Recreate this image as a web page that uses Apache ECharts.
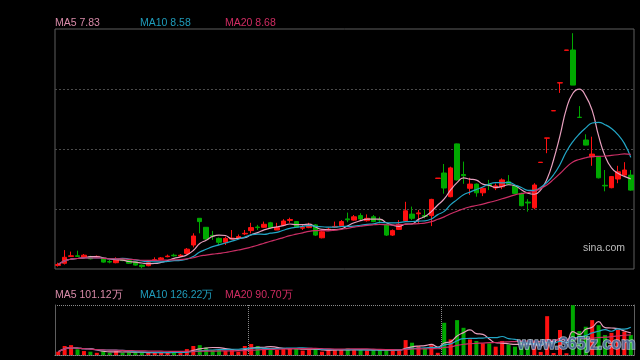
<!DOCTYPE html>
<html><head><meta charset="utf-8">
<script src="https://cdn.jsdelivr.net/npm/echarts@6/dist/echarts.min.js"></script>
<style>html,body{margin:0;padding:0;background:#000}#c{width:640px;height:360px}</style>
</head><body><div id="c"></div>
<script>
const opens  = [4.92,4.99,5.22,5.24,5.19,5.21,5.19,5.14,5.05,5.01,5.11,5.08,5.04,4.93,4.91,5.09,5.12,5.21,5.26,5.23,5.32,5.60,6.49,6.19,5.92,5.82,5.69,5.80,5.82,5.97,6.08,6.20,6.19,6.34,6.10,6.26,6.42,6.38,6.16,6.18,6.27,5.84,6.11,6.20,6.24,6.47,6.43,6.58,6.41,6.54,6.45,6.27,5.93,6.12,6.41,6.63,6.64,6.58,6.58,7.82,8.00,7.21,8.97,7.95,7.49,7.63,7.34,7.62,7.50,7.54,7.71,7.57,7.32,7.03,6.84,8.35,9.16,10.07,11.00,12.09,12.10,9.86,9.10,8.54,8.54,7.59,7.51,7.80,7.93,7.93];
const closes = [4.95,5.19,5.24,5.22,5.26,5.14,5.22,5.03,5.03,5.12,5.08,4.99,4.93,4.88,5.01,5.11,5.17,5.23,5.24,5.26,5.46,5.90,6.38,5.80,5.89,5.69,5.82,5.83,5.88,5.99,6.18,6.18,6.29,6.18,6.18,6.40,6.45,6.19,6.19,6.24,5.93,6.04,6.13,6.22,6.38,6.44,6.54,6.47,6.49,6.38,6.43,5.93,6.08,6.29,6.74,6.49,6.67,6.55,7.12,7.83,7.50,8.17,7.77,7.91,7.63,7.34,7.49,7.58,7.57,7.77,7.63,7.32,6.91,7.00,7.60,8.36,9.17,10.08,11.01,12.10,10.93,9.85,8.93,8.63,7.84,7.57,7.88,8.04,8.10,7.43];
const lows   = [4.88,4.95,5.20,5.20,5.17,5.12,5.17,5.01,4.99,4.99,5.06,4.97,4.91,4.82,4.89,5.07,5.10,5.19,5.21,5.21,5.29,5.52,5.99,5.78,5.77,5.60,5.60,5.80,5.80,5.93,5.99,6.10,6.17,6.16,6.10,6.24,6.34,6.17,6.10,6.16,5.90,5.82,6.09,6.18,6.22,6.36,6.41,6.41,6.38,6.36,6.32,5.90,5.90,6.10,6.38,6.43,6.30,6.49,6.23,7.82,7.31,7.19,7.75,7.64,7.27,7.21,7.23,7.43,7.43,7.46,7.60,7.30,6.89,6.71,6.79,8.35,8.66,10.07,10.67,12.09,10.93,9.85,8.92,8.24,7.82,7.39,7.49,7.66,7.91,7.41];
const highs  = [5.01,5.43,5.38,5.41,5.30,5.24,5.25,5.16,5.10,5.19,5.14,5.10,5.06,4.95,5.04,5.19,5.20,5.28,5.31,5.30,5.50,5.99,6.49,6.20,6.07,5.85,5.88,6.10,5.95,6.10,6.34,6.27,6.38,6.37,6.34,6.46,6.51,6.40,6.27,6.34,6.30,6.10,6.18,6.38,6.43,6.68,6.60,6.66,6.62,6.60,6.54,6.30,6.12,6.43,7.04,6.88,6.77,6.77,7.14,7.83,8.30,8.21,8.98,8.38,7.84,7.65,7.52,7.77,7.65,7.82,7.93,7.60,7.35,7.13,7.66,8.36,9.17,10.08,11.01,12.10,12.66,10.23,9.29,9.21,8.56,8.10,7.90,8.24,8.36,8.10];
const volumes = [15,41,45,26,18,15,10,18,10,20,10,12,12,12,10,10,10,12,15,10,27,41,45,35,23,23,18,26,15,41,50,41,30,30,23,30,30,30,20,23,30,15,23,23,23,30,23,23,20,23,23,23,20,20,68,56,41,30,45,10,147,71,159,124,71,64,53,53,38,64,48,38,58,40,60,14,177,9,114,8,227,109,129,159,136,91,101,114,106,91];
const priceLegend = ['MA5 7.83', 'MA10 8.58', 'MA20 8.68'];
const volLegend = ['MA5 101.12万', 'MA10 126.22万', 'MA20 90.70万'];
const days = opens.map((_, i) => 'D' + (i + 1));

const UP = '#ff1010', DOWN = '#00a800';
const maColors = ['#e8a0bf', '#22a6c6', '#cc2f66'];
const maText = ['#d88aa8', '#1f9cbb', '#d02c62'];
const FONT = 'Liberation Sans, Arial, sans-serif';

function ma(arr, n) {
  return arr.map((_, i) => {
    const s = Math.max(0, i - n + 1);
    let sum = 0;
    for (let k = s; k <= i; k++) sum += arr[k];
    return +(sum / (i - s + 1)).toFixed(3);
  });
}
const candles = opens.map((o, i) => [o, closes[i], lows[i], highs[i]]);
const volData = volumes.map((v, i) => ({ value: v, itemStyle: { color: closes[i] >= opens[i] ? UP : DOWN } }));
const periods = [5, 10, 20];

const chart = echarts.init(document.getElementById('c'), null, { renderer: 'canvas' });
const series = [{
  type: 'candlestick', xAxisIndex: 0, yAxisIndex: 0, data: candles, barWidth: 5,
  itemStyle: { color: UP, color0: DOWN, borderColor: UP, borderColor0: DOWN, borderWidth: 1 }
}];
periods.forEach((p, k) => series.push({
  type: 'line', xAxisIndex: 0, yAxisIndex: 0, data: ma(closes, p), showSymbol: false, smooth: true,
  lineStyle: { color: maColors[k], width: 1.2 }, silent: true
}));
series.push({ type: 'bar', xAxisIndex: 1, yAxisIndex: 1, data: volData, barWidth: 4 });
periods.forEach((p, k) => series.push({
  type: 'line', xAxisIndex: 1, yAxisIndex: 1, data: ma(volumes, p), showSymbol: false, smooth: true,
  lineStyle: { color: maColors[k], width: 1.2 }, silent: true
}));

const legendEls = [];
const legendX = [55, 140, 225];
priceLegend.forEach((t, k) => legendEls.push({ type: 'text', left: legendX[k], top: 18, style: { text: t, fill: maText[k], font: '10.5px ' + FONT } }));
volLegend.forEach((t, k) => legendEls.push({ type: 'text', left: legendX[k], top: 290, style: { text: t, fill: maText[k], font: '10.5px ' + FONT } }));
legendEls.push({ type: 'text', left: 583, top: 243, style: { text: 'sina.com', fill: '#bdbdbd', font: '10.5px ' + FONT } });
legendEls.push({ type: 'text', left: 517, top: 336, z: 100, style: { text: 'www.365jz.com', fill: 'rgba(70,100,150,0.85)', stroke: 'rgba(210,225,240,0.7)', lineWidth: 1.5, font: 'bold 16px ' + FONT } });

chart.setOption({
  backgroundColor: '#000',
  animation: false,
  grid: [
    { left: 55, top: 29, width: 579, height: 240, show: true, borderColor: '#5e5e5e', borderWidth: 1, backgroundColor: 'transparent' },
    { left: 55, top: 305, width: 579, height: 50, show: false }
  ],
  xAxis: [
    { type: 'category', gridIndex: 0, data: days, boundaryGap: true, show: false },
    { type: 'category', gridIndex: 1, data: days, boundaryGap: true,
      axisLine: { show: true, lineStyle: { color: '#8a8a8a', type: [1, 1] } },
      axisTick: { show: false }, axisLabel: { show: false },
      splitLine: { show: true, interval: (idx) => idx === 30 || idx === 60, lineStyle: { color: '#8a8a8a', type: [1, 1] } } }
  ],
  yAxis: [
    { type: 'value', gridIndex: 0, min: 4.8, max: 12.8, interval: 2, scale: true,
      axisLine: { show: false }, axisTick: { show: false }, axisLabel: { show: false },
      splitLine: { show: true, showMinLine: false, showMaxLine: false, lineStyle: { color: '#4a4a4a', type: [2, 2], width: 1 } } },
    { type: 'value', gridIndex: 1, min: 0, max: 228, interval: 228,
      axisLine: { show: true, onZero: false, lineStyle: { color: '#5e5e5e' } }, axisTick: { show: false }, axisLabel: { show: false },
      splitLine: { show: true, showMinLine: false, showMaxLine: true, lineStyle: { color: '#8a8a8a', type: [1, 1] } } },
    { type: 'value', gridIndex: 1, position: 'right', min: 0, max: 228,
      axisLine: { show: true, onZero: false, lineStyle: { color: '#5e5e5e' } }, axisTick: { show: false }, axisLabel: { show: false },
      splitLine: { show: false } }
  ],
  graphic: legendEls,
  series: series
});
</script>
</body></html>
